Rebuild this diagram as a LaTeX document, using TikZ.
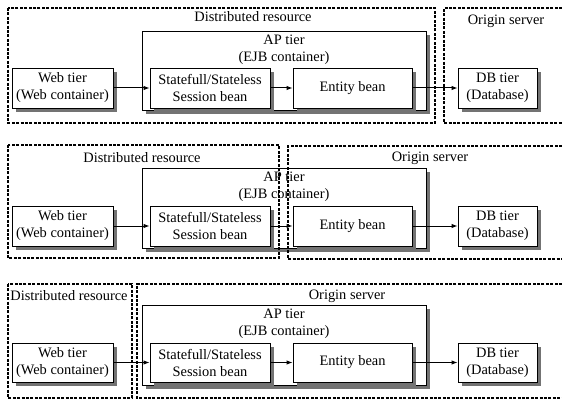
\documentclass[tikz,border=0pt]{standalone}
\usepackage{fontspec}
\setmainfont{Liberation Serif}
\usetikzlibrary{shadows,arrows.meta}
\begin{document}
\begin{tikzpicture}[x=1pt,y=-1pt,
  every node/.style={font=\fontsize{14.4}{17}\selectfont},
  tierbox/.style={draw, fill=white, line width=0.9pt, inner sep=0pt, align=center,
    drop shadow={shadow xshift=4pt, shadow yshift=-4pt, fill=black!55, opacity=1}},
  apbox/.style={tierbox, minimum width=284pt, minimum height=80pt},
  regionline/.style={line width=1.3pt, dash pattern=on 3pt off 1.4pt},
  lbl/.style={inner sep=0pt, align=center},
  arr/.style={line width=1pt, -{Latex[length=6pt,width=4.5pt]}}
]
\useasboundingbox (0,0) rectangle (562,401);

% ---------- Panel 1 ----------
\node[apbox, minimum height=79pt] (ap1) at (284,70.5) {};
\node[lbl] (ap1t) at (284,49.5) {AP tier\\(EJB container)};
\node[tierbox, minimum width=101pt, minimum height=40pt] (web1) at (62.5,88) {Web tier\\(Web container)};
\node[tierbox, minimum width=120pt, minimum height=40pt] (sf1) at (210,88) {Statefull/Stateless\\Session bean};
\node[tierbox, minimum width=119pt, minimum height=40pt] (eb1) at (352.5,88) {Entity bean};
\node[tierbox, minimum width=79pt, minimum height=40pt] (db1) at (497.5,88) {DB tier\\(Database)};
\draw[arr] (web1) -- (sf1);
\draw[arr] (sf1) -- (eb1);
\draw[arr] (eb1) -- (db1);
\draw[regionline] (8,8) rectangle (435,123);
\draw[regionline] (562,8) -- (444,8) -- (444,123) -- (562,123);
\node[lbl] (dr1) at (253,17) {Distributed resource};
\node[lbl] (os1) at (506,21) {Origin server};

% ---------- Panel 2 ----------
\node[apbox] (ap2) at (284,208) {};
\node[lbl] (ap2t) at (284,186.5) {AP tier\\(EJB container)};
\node[tierbox, minimum width=101pt, minimum height=40pt] (web2) at (62.5,226) {Web tier\\(Web container)};
\node[tierbox, minimum width=120pt, minimum height=40pt] (sf2) at (210,226) {Statefull/Stateless\\Session bean};
\node[tierbox, minimum width=119pt, minimum height=40pt] (eb2) at (352.5,226) {Entity bean};
\node[tierbox, minimum width=79pt, minimum height=40pt] (db2) at (497.5,226) {DB tier\\(Database)};
\draw[arr] (web2) -- (sf2);
\draw[arr] (sf2) -- (eb2);
\draw[arr] (eb2) -- (db2);
\draw[regionline] (8,145) rectangle (279,258);
\draw[regionline] (562,146) -- (288,146) -- (288,259) -- (562,259);
\node[lbl] (dr2) at (142,158) {Distributed resource};
\node[lbl] (os2) at (430,158) {Origin server};

% ---------- Panel 3 ----------
\node[apbox] (ap3) at (284,345) {};
\node[lbl] (ap3t) at (284,324) {AP tier\\(EJB container)};
\node[tierbox, minimum width=101pt, minimum height=39pt] (web3) at (62.5,362.5) {Web tier\\(Web container)};
\node[tierbox, minimum width=120pt, minimum height=39pt] (sf3) at (210,362.5) {Statefull/Stateless\\Session bean};
\node[tierbox, minimum width=119pt, minimum height=39pt] (eb3) at (352.5,362.5) {Entity bean};
\node[tierbox, minimum width=79pt, minimum height=39pt] (db3) at (497.5,362.5) {DB tier\\(Database)};
\draw[arr] (web3) -- (sf3);
\draw[arr] (sf3) -- (eb3);
\draw[arr] (eb3) -- (db3);
\draw[regionline] (8,284) rectangle (132,398);
\draw[regionline] (562,284) -- (137,284) -- (137,398) -- (562,398);
\node[lbl] (dr3) at (69,296) {Distributed resource};
\node[lbl] (os3) at (347,296) {Origin server};
\end{tikzpicture}
\end{document}
